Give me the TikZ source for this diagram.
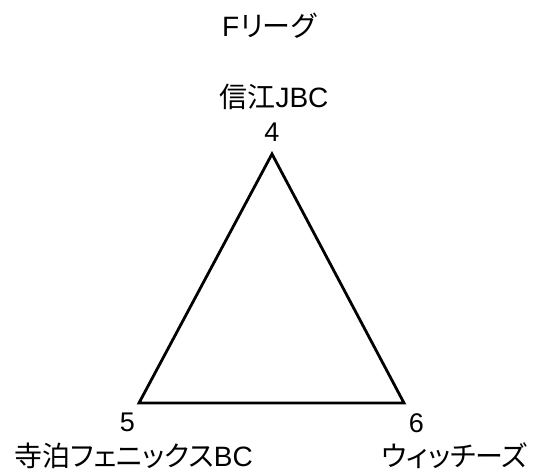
\documentclass[tikz,border=0pt]{standalone}
\usepackage{fontspec}
\setmainfont{Noto Sans CJK JP}[RawFeature=+palt]
\newfontfamily\latin{Liberation Sans}
\usepackage{tikz}
\tikzstyle{team} = [inner sep=0pt, font=\fontsize{28}{33}\selectfont]
\tikzstyle{seed} = [inner sep=0pt, font=\fontsize{27}{32}\selectfont\latin]
\tikzstyle{edge} = [draw, line width=2.8pt, line join=miter]

\begin{document}
\begin{tikzpicture}[x=1pt, y=1pt, node distance = 36pt]
    \useasboundingbox (0,0) rectangle (533,471);

    \coordinate (v4) at (272,317);
    \coordinate (v5) at (139,68);
    \coordinate (v6) at (404,68);

    \node (title)  [team] at (269,445) {{\latin F}\kern1pt リーグ};
    \node (seed4)  [seed, above of = v4, yshift = -14.5pt] {4};
    \node (shinoe) [team, above of = seed4, xshift = 2pt] {信江{\latin JBC}};
    \node (seed5)  [seed, below of = v5,
                    xshift = -11.5pt, yshift = 17pt] {5};
    \node (tera)   [team, below of = seed5,
                    xshift = 6pt, yshift = 2pt] {寺泊フェニックス{\latin BC}};
    \node (seed6)  [seed, below of = v6,
                    xshift = 12.5pt, yshift = 16pt] {6};
    \node (witch)  [team, below of = seed6,
                    xshift = 38pt, yshift = 3pt] {ウィッチーズ};
    \path [edge]   (v4) -- (v5) -- (v6) -- cycle;
  \end{tikzpicture}
\end{document}
